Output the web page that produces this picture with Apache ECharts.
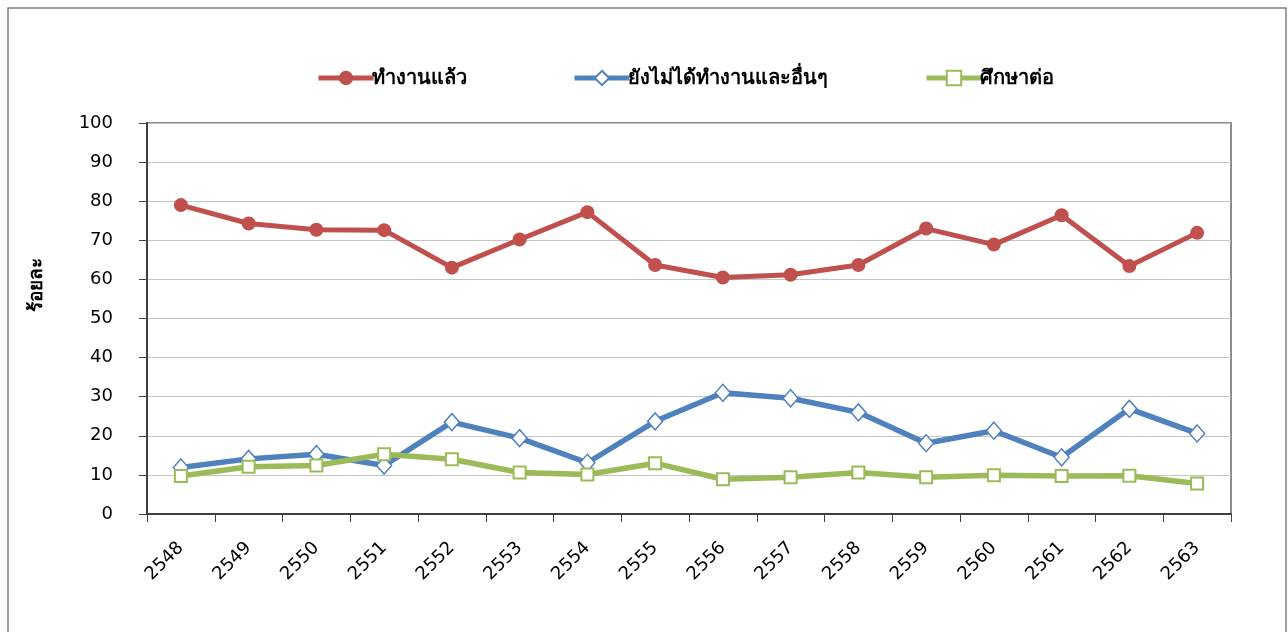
<!DOCTYPE html>
<html>
<head>
<meta charset="utf-8">
<script src="https://cdn.jsdelivr.net/npm/echarts@6/dist/echarts.min.js"></script>
<style>
  html, body { margin: 0; padding: 0; background: #fff; }
  #chart { width: 1288px; height: 632px; }
</style>
</head>
<body>
<div id="chart"></div>
<script>
// ข้อมูล (ร้อยละ)
const years = ['2548', '2549', '2550', '2551', '2552', '2553', '2554', '2555',
               '2556', '2557', '2558', '2559', '2560', '2561', '2562', '2563'];
const working = [79.0, 74.3, 72.7, 72.6, 63.0, 70.2, 77.2, 63.7, 60.5, 61.2, 63.7, 73.0, 68.9, 76.4, 63.4, 71.9];
const notWorking = [11.9, 14.1, 15.3, 12.4, 23.5, 19.4, 13.1, 23.7, 31.0, 29.6, 26.0, 18.1, 21.3, 14.5, 26.9, 20.6];
const studying = [9.7, 12.1, 12.4, 15.3, 14.0, 10.6, 10.1, 13.0, 8.9, 9.4, 10.6, 9.4, 9.9, 9.7, 9.8, 7.8];
const seriesNames = ['ทำงานแล้ว', 'ยังไม่ได้ทำงานและอื่นๆ', 'ศึกษาต่อ'];

const RED = '#C0504D', BLUE = '#4F81BD', GREEN = '#9BBB59';
const numFont = "'DejaVu Sans', Tahoma, sans-serif";

const chart = echarts.init(document.getElementById('chart'));

function legendAt(name, left) {
  return {
    data: [name],
    left: left,
    top: 63,
    itemWidth: 55,
    itemHeight: 18,
    itemGap: 0,
    lineStyle: { width: 5 },
    textStyle: { fontSize: 20, fontWeight: 'bold', color: '#000', padding: [0, 0, 0, -7] }
  };
}

const option = {
  animation: false,
  backgroundColor: '#fff',
  legend: [
    legendAt(seriesNames[0], 311),
    legendAt(seriesNames[1], 567),
    legendAt(seriesNames[2], 919)
  ],
  graphic: [
    {
      type: 'rect',
      shape: { x: 8, y: 8, width: 1278, height: 700 },
      style: { fill: 'none', stroke: '#808080', lineWidth: 1.5 },
      silent: true
    },
    {
      type: 'text',
      x: 37, y: 285,
      rotation: Math.PI / 2,
      style: {
        text: 'ร้อยละ',
        fontSize: 19, fontWeight: 'bold', fill: '#000',
        align: 'center', verticalAlign: 'middle'
      }
    }
  ],
  grid: {
    left: 147, top: 123, width: 1084, height: 391,
    show: true, borderColor: '#8c8c8c', borderWidth: 2
  },
  xAxis: {
    type: 'category',
    data: years,
    boundaryGap: true,
    axisLine: { lineStyle: { color: '#404040', width: 2 } },
    axisTick: { show: true, length: 8, lineStyle: { color: '#404040', width: 1 } },
    axisLabel: {
      rotate: 45, margin: 31, padding: [31, 0, 0, 0],
      fontSize: 18, fontFamily: numFont, color: '#000'
    }
  },
  yAxis: {
    type: 'value',
    min: 0, max: 100, interval: 10,
    axisLine: { show: true, lineStyle: { color: '#404040', width: 2 } },
    axisTick: { show: true, length: 8, lineStyle: { color: '#404040', width: 1 } },
    axisLabel: { margin: 34, fontSize: 18, fontFamily: numFont, color: '#000' },
    splitLine: { lineStyle: { color: '#c4c4c4', width: 1.2 } }
  },
  series: [
    {
      name: seriesNames[0], type: 'line', data: working,
      symbol: 'circle', symbolSize: 14,
      lineStyle: { color: RED, width: 5 },
      itemStyle: { color: RED }
    },
    {
      name: seriesNames[1], type: 'line', data: notWorking,
      symbol: 'diamond', symbolSize: [15, 17],
      lineStyle: { color: BLUE, width: 5.5 },
      itemStyle: { color: '#fff', borderColor: BLUE, borderWidth: 1.5 }
    },
    {
      name: seriesNames[2], type: 'line', data: studying,
      symbol: 'rect', symbolSize: 12,
      lineStyle: { color: GREEN, width: 5.5 },
      itemStyle: { color: '#fff', borderColor: GREEN, borderWidth: 2 }
    }
  ]
};
chart.setOption(option);
</script>
</body>
</html>
